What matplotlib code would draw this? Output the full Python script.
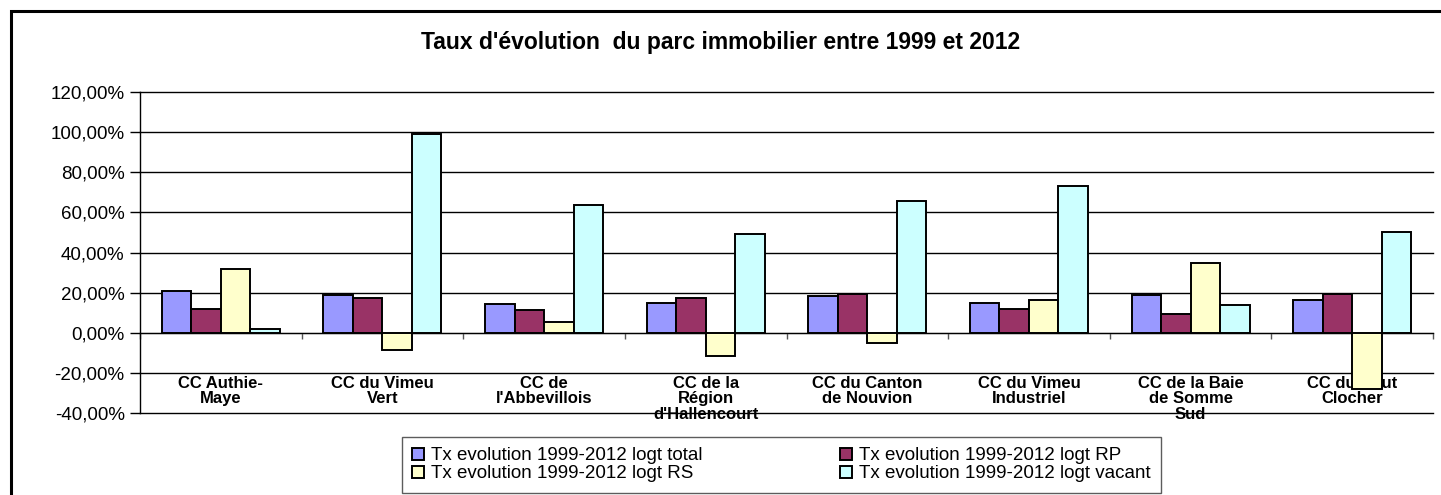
import matplotlib.pyplot as plt
import matplotlib.patches as mpatches
import numpy as np

plt.rcParams['font.family'] = ['Liberation Sans', 'DejaVu Sans']

# categories (communautés de communes)
categories = ["CC Authie-\nMaye", "CC du Vimeu\nVert", "CC de\nl'Abbevillois",
              "CC de la\nRégion\nd'Hallencourt", "CC du Canton\nde Nouvion",
              "CC du Vimeu\nIndustriel", "CC de la Baie\nde Somme\nSud",
              "CC du Haut\nClocher"]

# values in %
logt_total = [21.0, 19.0, 14.1, 14.8, 18.4, 14.8, 18.6, 16.1]
logt_rp = [11.9, 17.4, 11.1, 17.4, 19.1, 11.8, 9.5, 19.1]
logt_rs = [32.0, -8.6, 5.5, -11.6, -5.0, 16.1, 34.7, -28.0]
logt_vacant = [1.8, 98.9, 63.8, 49.3, 65.8, 73.1, 13.6, 50.4]

series_labels = ["Tx evolution 1999-2012 logt total", "Tx evolution 1999-2012 logt RP",
                 "Tx evolution 1999-2012 logt RS", "Tx evolution 1999-2012 logt vacant"]
colors = ["#9999FF", "#993366", "#FFFFCC", "#CCFFFF"]
yticks = [-40, -20, 0, 20, 40, 60, 80, 100, 120]

fig = plt.figure(figsize=(14.41, 4.95), dpi=100)
ax = fig.add_axes([140 / 1441, 1 - 413 / 495, (1433 - 140) / 1441, (413 - 92) / 495])

# outer chart border
fig.patches.append(mpatches.Rectangle((11 / 1441, -0.05), 1.0, 1 - 11 / 495 + 0.05,
                                      transform=fig.transFigure, fill=False,
                                      edgecolor='black', linewidth=2.2))

x = np.arange(len(categories))
w = 0.1825
all_series = [logt_total, logt_rp, logt_rs, logt_vacant]
bars = []
for i, vals in enumerate(all_series):
    b = ax.bar(x + (i - 1.5) * w, vals, w, color=colors[i], edgecolor='black',
               linewidth=1.4, zorder=3, label=series_labels[i])
    bars.append(b)

for v in yticks:
    ax.axhline(v, color='black', linewidth=1.0, zorder=1, clip_on=False)

ax.set_xlim(-0.5, len(categories) - 0.5)
ax.set_ylim(-40, 120)
ax.set_yticks(yticks)
ax.set_yticklabels([f"{v},00%" for v in yticks], fontsize=13.5)
ax.tick_params(axis='y', direction='out', length=7, width=1, pad=4)

ax.spines['top'].set_visible(False)
ax.spines['right'].set_visible(False)
ax.spines['bottom'].set_position(('data', 0))
ax.spines['left'].set_linewidth(1.0)
ax.set_xticks(np.arange(len(categories) + 1) - 0.5)
ax.set_xticklabels([])
ax.tick_params(axis='x', direction='out', length=4, width=1, color='#555555')

for i, c in enumerate(categories):
    ax.text(i, -21.5, c, ha='center', va='top', fontsize=12, fontweight='bold',
            linespacing=1.05, zorder=2)

fig.text(0.5, 1 - 42 / 495, "Taux d'évolution  du parc immobilier entre 1999 et 2012",
         ha='center', va='center', fontsize=16.5, fontweight='bold')

# legend rows: total / RP, then RS / vacant
order = [0, 2, 1, 3]
leg = fig.legend(handles=[bars[i] for i in order], labels=[series_labels[i] for i in order],
                 ncol=2, loc='upper left', mode='expand',
                 bbox_to_anchor=(402 / 1441, 1 - 442 / 495, 759 / 1441, 0.01),
                 fontsize=13.5, frameon=True, fancybox=False, edgecolor='#333333',
                 handlelength=0.6, handleheight=0.6, handletextpad=0.4,
                 columnspacing=1.0, labelspacing=0.05, borderpad=0.55,
                 borderaxespad=0)
leg.get_frame().set_linewidth(1.0)

fig.savefig("out.png", dpi=100)
